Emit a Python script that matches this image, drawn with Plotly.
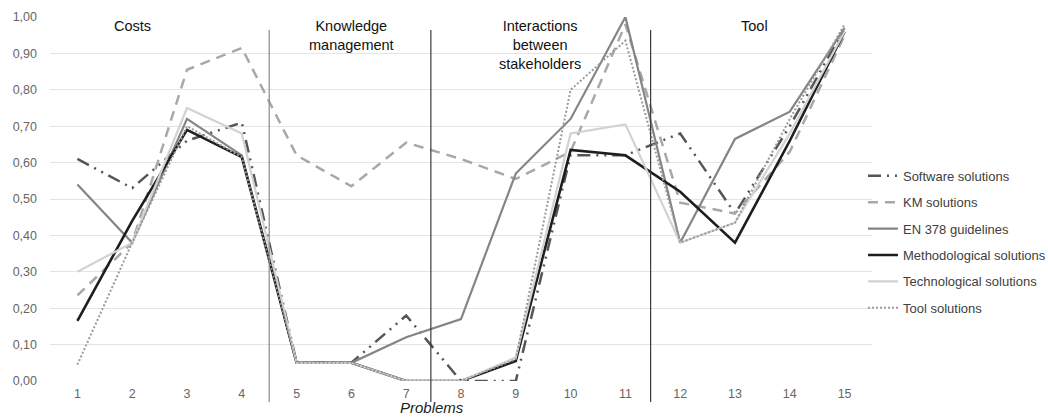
import plotly.graph_objects as go

problems = list(range(1, 16))
tick_labels = [str(p) for p in problems]

software = [0.61, 0.53, 0.66, 0.71, 0.05, 0.05, 0.18, 0.00, 0.00, 0.62, 0.62, 0.68, 0.46, 0.70, 0.97]
km = [0.235, 0.38, 0.855, 0.915, 0.62, 0.535, 0.655, 0.61, 0.555, 0.63, 0.98, 0.49, 0.46, 0.63, 0.95]
en378 = [0.54, 0.38, 0.72, 0.62, 0.05, 0.05, 0.12, 0.17, 0.57, 0.72, 1.00, 0.38, 0.665, 0.74, 0.97]
methodological = [0.165, 0.44, 0.69, 0.615, 0.05, 0.05, 0.00, 0.00, 0.055, 0.635, 0.62, 0.52, 0.38, 0.66, 0.96]
technological = [0.30, 0.38, 0.75, 0.68, 0.05, 0.05, 0.00, 0.00, 0.065, 0.68, 0.705, 0.38, 0.435, 0.68, 0.96]
tool = [0.045, 0.38, 0.70, 0.615, 0.05, 0.05, 0.00, 0.00, 0.06, 0.80, 0.935, 0.38, 0.435, 0.72, 0.98]

series_names = ["Software solutions", "KM solutions", "EN 378 guidelines",
                "Methodological solutions", "Technological solutions", "Tool solutions"]
series_values = [software, km, en378, methodological, technological, tool]
styles = [
    dict(color="#555555", width=2.5, dash="13px,6px,2px,6px,2px,6px"),
    dict(color="#a8a8a8", width=2.5, dash="10px,7px"),
    dict(color="#858585", width=2.2, dash="solid"),
    dict(color="#1e1e1e", width=2.6, dash="solid"),
    dict(color="#d2d2d2", width=2.2, dash="solid"),
    dict(color="#9a9a9a", width=2.0, dash="2px,2px"),
]

section_labels = ["Costs", "Knowledge<br>management", "Interactions<br>between<br>stakeholders", "Tool"]
section_label_x = [2.0, 6.0, 9.45, 13.35]
separator_x = [4.5, 7.45, 11.46]
separator_colors = ["#8a8a8a", "#3a3a3a", "#3a3a3a"]

fig = go.Figure()
for i, (name, vals, st) in enumerate(zip(series_names, series_values, styles)):
    fig.add_trace(go.Scatter(
        x=problems, y=vals, name=name, mode="lines",
        line=dict(color=st["color"], width=st["width"], dash=st["dash"]),
        legendgroup=f"g{i}",
    ))

for sx, sc in zip(separator_x, separator_colors):
    fig.add_shape(type="line", xref="x", yref="paper", x0=sx, x1=sx, y0=-0.058, y1=0.964,
                  line=dict(color=sc, width=1.2))

for lx, lt in zip(section_label_x, section_labels):
    fig.add_annotation(x=lx, y=1.004, xref="x", yref="paper", text=lt, showarrow=False,
                       yanchor="top", xanchor="center", align="center",
                       font=dict(family="Liberation Sans, Arial", size=14.5, color="#111111"))

fig.add_annotation(x=0.465, y=-0.1016, xref="paper", yref="paper", text="<i>Problems</i>",
                   showarrow=False, yanchor="bottom", xanchor="center",
                   font=dict(family="Liberation Sans, Arial", size=15, color="#222222"))

fig.update_layout(
    width=1048, height=418,
    margin=dict(l=50, r=176, t=17, b=37, autoexpand=False),
    paper_bgcolor="white", plot_bgcolor="white",
    showlegend=True,
    legend=dict(x=0.989, xanchor="left", y=0.605, yanchor="top", itemwidth=30,
                font=dict(family="Liberation Sans, Arial", size=13, color="#404040"),
                traceorder="grouped", tracegroupgap=6.5, bgcolor="rgba(0,0,0,0)"),
    xaxis=dict(range=[0.5, 15.5], tickmode="array", tickvals=problems, ticktext=tick_labels,
               showgrid=False, zeroline=False, showline=False, ticks="", automargin=False,
               ticklabelstandoff=3,
               tickfont=dict(family="Liberation Sans, Arial", size=12.5, color="#666666")),
    yaxis=dict(range=[0, 1.0], tickvals=[i / 10 for i in range(11)],
               ticktext=[f"{i/10:.2f}".replace(".", ",") for i in range(11)],
               showgrid=True, gridcolor="#e4e4e4", gridwidth=1, zeroline=False,
               showline=False, ticks="", automargin=False, ticklabelstandoff=12,
               tickfont=dict(family="Liberation Sans, Arial", size=12.5, color="#666666")),
)

fig.write_html("out.html", config={"displayModeBar": False},
               post_script="document.body.style.margin='0';document.body.style.padding='0';")
